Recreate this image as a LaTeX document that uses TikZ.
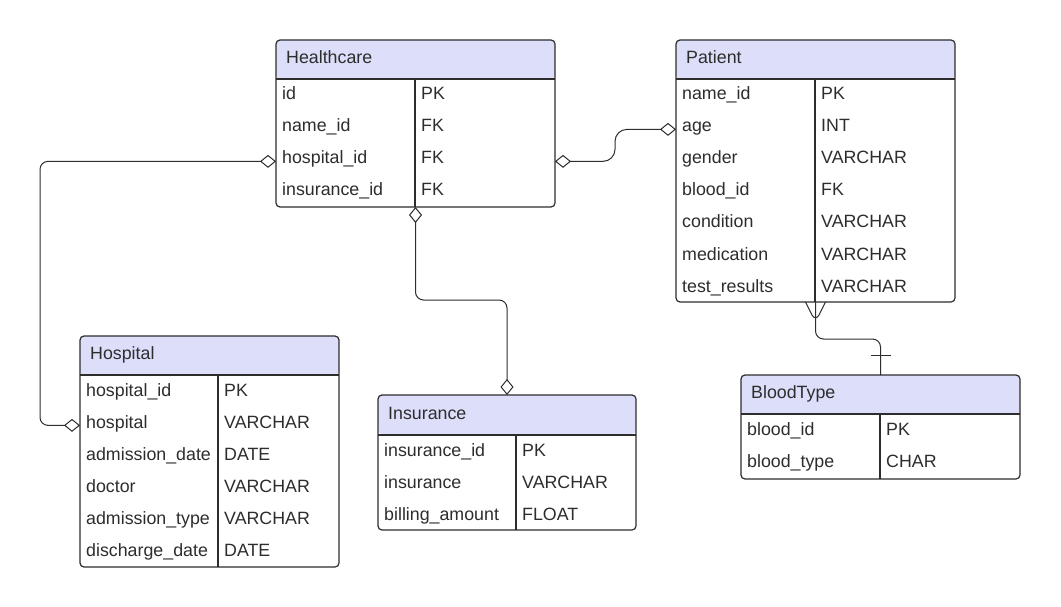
\documentclass[tikz,border=0pt]{standalone}
\usepackage{fontspec}
\setmainfont{Liberation Sans}
\usetikzlibrary{arrows.meta,positioning,calc}
\definecolor{headfill}{RGB}{221,222,250}
\definecolor{ink}{RGB}{45,45,45}
\tikzset{
	tbl/.style={draw=ink, line width=1.2pt, rounded corners=4pt, inner sep=0pt, outer sep=0pt,
		anchor=north west,
		path picture={\fill[headfill] (path picture bounding box.north west) rectangle ([yshift=-39pt]path picture bounding box.north east);}},
	grid/.style={draw=ink, line width=1.2pt},
	title/.style={anchor=base west, inner sep=0pt, text=ink, font=\fontsize{17.8}{20}\selectfont},
	cell/.style={anchor=base west, inner sep=0pt, text=ink, font=\fontsize{17.8}{20}\selectfont},
	rel/.style={draw=ink, line width=1pt, rounded corners=8pt},
	dd/.style={arrows={Diamond[open,length=16pt,width=13pt]-Diamond[open,length=16pt,width=13pt]}}
}

\begin{document}
\begin{tikzpicture}[x=1pt, y=-1pt]
		\path[use as bounding box, fill=white] (0,0) rectangle (1061,607);
		
		% Healthcare
		\node[tbl, minimum width=279pt, minimum height=167pt] (hc) at (276,40) {};
		\draw[grid] (276,79) -- (555,79) (415,79) -- (415,207);
		\node[title] (hc-title) at (286,63.5) {Healthcare};
		\foreach \f/\k [count=\i] in {id/PK, name\_id/FK, hospital\_id/FK, insurance\_id/FK} {
			\node[cell] (hc-\i) at (282,68+32*\i) {\f};
			\node[cell] (hc-k\i) at (421,68+32*\i) {\k};
		}
		
		% Patient
		\node[tbl, minimum width=279pt, minimum height=262pt] (pt) at (676,40) {};
		\draw[grid] (676,79) -- (955,79) (815,79) -- (815,302);
		\node[title] (pt-title) at (686,63.5) {Patient};
		\foreach \f/\k [count=\i] in {name\_id/PK, age/INT, gender/VARCHAR, blood\_id/FK,
			condition/VARCHAR, medication/VARCHAR, test\_results/VARCHAR} {
			\node[cell] (pt-\i) at (682,68+32*\i) {\f};
			\node[cell] (pt-k\i) at (821,68+32*\i) {\k};
		}
		
		% Hospital
		\node[tbl, minimum width=259pt, minimum height=231pt] (hs) at (80,336) {};
		\draw[grid] (80,375) -- (339,375) (218,375) -- (218,567);
		\node[title] (hs-title) at (90,359.5) {Hospital};
		\foreach \f/\k [count=\i] in {hospital\_id/PK, hospital/VARCHAR, admission\_date/DATE,
			doctor/VARCHAR, admission\_type/VARCHAR, discharge\_date/DATE} {
			\node[cell] (hs-\i) at (86,364+32*\i) {\f};
			\node[cell] (hs-k\i) at (224,364+32*\i) {\k};
		}
		
		% Insurance
		\node[tbl, minimum width=258pt, minimum height=135pt] (ins) at (378,395) {};
		\draw[grid] (378,435) -- (636,435) (516,435) -- (516,530);
		\node[title] (ins-title) at (388,419) {Insurance};
		\foreach \f/\k [count=\i] in {insurance\_id/PK, insurance/VARCHAR, billing\_amount/FLOAT} {
			\node[cell] (ins-\i) at (384,424+32*\i) {\f};
			\node[cell] (ins-k\i) at (522,424+32*\i) {\k};
		}
		
		% BloodType
		\node[tbl, minimum width=279pt, minimum height=104pt] (bt) at (741,375) {};
		\draw[grid] (741,414) -- (1020,414) (880,414) -- (880,479);
		\node[title] (bt-title) at (751,398.5) {BloodType};
		\foreach \f/\k [count=\i] in {blood\_id/PK, blood\_type/CHAR} {
			\node[cell] (bt-\i) at (747,403+32*\i) {\f};
			\node[cell] (bt-k\i) at (886,403+32*\i) {\k};
		}
		
		% relations
		\draw[rel, dd] (hc.west |- hc-3.mid) -- ++(-236,0) |- (hs.west |- hs-2.mid);
		\draw[rel, dd, rounded corners=12pt] (hc.east |- hc-3.mid) -- ++(60,0) |- (pt.west |- pt-2.mid);
		\draw[rel, dd] (hc.south) -- ++(0,93) -| (ins.north);
		\draw[rel] (pt.south) -- ++(0,37) -| (bt.north);
		\draw[rel] ([xshift=-10pt]pt.south) -- ([yshift=-20pt]pt.south) -- ([xshift=10pt]pt.south);
		\draw[rel] ([xshift=-10pt, yshift=20pt]bt.north) -- ([xshift=10pt, yshift=20pt]bt.north);
\end{tikzpicture}
\end{document}
